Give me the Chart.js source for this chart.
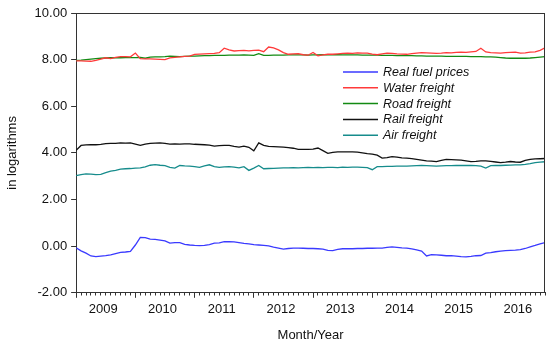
<!DOCTYPE html>
<html>
<head>
<meta charset="utf-8">
<script src="https://cdn.jsdelivr.net/npm/chart.js@4/dist/chart.umd.min.js"></script>
<style>
  html, body { margin: 0; padding: 0; background: #ffffff; }
  #wrap { width: 550px; height: 351px; }
</style>
</head>
<body>
<div id="wrap"><canvas id="c" width="550" height="351"></canvas></div>
<script>
// Monthly observations, January 2009 to December 2016 (index 0..95)
const yearLabels = ['2009', '2010', '2011', '2012', '2013', '2014', '2015', '2016'];
const yTickValues = [-2, 0, 2, 4, 6, 8, 10];
const seriesNames = ['Real fuel prices', 'Water freight', 'Road freight', 'Rail freight', 'Air freight'];

const realFuel = [
  -0.07, -0.20, -0.30, -0.42, -0.45, -0.43, -0.41, -0.37, -0.32, -0.27, -0.25, -0.22,
   0.05,  0.38,  0.37,  0.30,  0.29,  0.26,  0.23,  0.13,  0.15,  0.15,  0.08,  0.05,
   0.03,  0.02,  0.03,  0.07,  0.13,  0.14,  0.19,  0.19,  0.18,  0.15,  0.12,  0.10,
   0.07,  0.05,  0.03,  0.01, -0.04, -0.08, -0.13, -0.10, -0.08, -0.08, -0.09, -0.10,
  -0.10, -0.11, -0.13, -0.18, -0.19, -0.14, -0.11, -0.11, -0.11, -0.10, -0.10, -0.09,
  -0.09, -0.08, -0.08, -0.05, -0.03, -0.05, -0.07, -0.08, -0.12, -0.16, -0.21, -0.42,
  -0.36, -0.37, -0.39, -0.41, -0.41, -0.43, -0.45, -0.46, -0.44, -0.41, -0.40, -0.30,
  -0.28, -0.24, -0.21, -0.19, -0.18, -0.17, -0.15, -0.10, -0.03,  0.03,  0.10,  0.15
];
const waterFreight = [
  7.95, 7.95, 7.94, 7.93, 7.97, 8.02, 8.08, 8.04, 8.10, 8.13, 8.13, 8.12,
  8.28, 8.04, 8.03, 8.03, 8.02, 8.01, 8.00, 8.08, 8.10, 8.12, 8.14, 8.15,
  8.23, 8.24, 8.25, 8.26, 8.27, 8.30, 8.49, 8.42, 8.37, 8.39, 8.40, 8.38,
  8.40, 8.41, 8.34, 8.54, 8.50, 8.42, 8.30, 8.23, 8.25, 8.26, 8.21, 8.19,
  8.31, 8.16, 8.20, 8.23, 8.23, 8.25, 8.27, 8.28, 8.27, 8.29, 8.28, 8.28,
  8.24, 8.21, 8.25, 8.28, 8.27, 8.25, 8.24, 8.23, 8.26, 8.28, 8.30, 8.29,
  8.28, 8.27, 8.28, 8.30, 8.29, 8.31, 8.32, 8.31, 8.33, 8.35, 8.49, 8.33,
  8.30, 8.29, 8.28, 8.30, 8.31, 8.32, 8.28, 8.29, 8.32, 8.33, 8.40, 8.51
];
const roadFreight = [
  7.97, 7.98, 8.00, 8.02, 8.04, 8.06, 8.07, 8.08, 8.08, 8.08, 8.09, 8.09,
  8.09, 8.10, 8.06, 8.11, 8.12, 8.12, 8.13, 8.15, 8.14, 8.13, 8.14, 8.15,
  8.15, 8.16, 8.17, 8.17, 8.18, 8.18, 8.18, 8.19, 8.19, 8.19, 8.20, 8.19,
  8.18, 8.26, 8.18, 8.18, 8.19, 8.19, 8.19, 8.20, 8.20, 8.20, 8.20, 8.19,
  8.20, 8.20, 8.21, 8.21, 8.21, 8.21, 8.20, 8.20, 8.20, 8.20, 8.19, 8.19,
  8.19, 8.19, 8.18, 8.18, 8.18, 8.17, 8.17, 8.17, 8.17, 8.16, 8.16, 8.15,
  8.15, 8.15, 8.15, 8.14, 8.14, 8.14, 8.14, 8.14, 8.13, 8.13, 8.13, 8.12,
  8.12, 8.11, 8.09, 8.07, 8.06, 8.06, 8.06, 8.06, 8.07, 8.09, 8.11, 8.13
];
const railFreight = [
  4.11, 4.32, 4.34, 4.35, 4.35, 4.37, 4.40, 4.41, 4.41, 4.43, 4.42, 4.43,
  4.38, 4.32, 4.38, 4.41, 4.42, 4.43, 4.41, 4.38, 4.39, 4.38, 4.39, 4.39,
  4.37, 4.36, 4.35, 4.33, 4.29, 4.31, 4.32, 4.32, 4.28, 4.25, 4.29, 4.24,
  4.09, 4.43, 4.32, 4.28, 4.27, 4.26, 4.25, 4.23, 4.20, 4.15, 4.15, 4.15,
  4.16, 4.21, 4.10, 3.98, 4.02, 4.04, 4.04, 4.04, 4.04, 4.03, 4.00, 3.97,
  3.95, 3.90, 3.78, 3.80, 3.84, 3.82, 3.79, 3.78, 3.75, 3.72, 3.69, 3.66,
  3.65, 3.63, 3.68, 3.72, 3.71, 3.70, 3.69, 3.66, 3.63, 3.64, 3.66, 3.66,
  3.64, 3.61, 3.58, 3.60, 3.63, 3.61, 3.60, 3.68, 3.72, 3.74, 3.75, 3.76
];
const airFreight = [
  3.03, 3.07, 3.10, 3.09, 3.07, 3.08, 3.15, 3.22, 3.25, 3.30, 3.32, 3.33,
  3.35, 3.36, 3.40, 3.47, 3.50, 3.47, 3.45, 3.38, 3.35, 3.46, 3.44, 3.43,
  3.41, 3.38, 3.44, 3.49, 3.41, 3.38, 3.40, 3.41, 3.39, 3.36, 3.41, 3.25,
  3.35, 3.46, 3.32, 3.33, 3.34, 3.35, 3.36, 3.36, 3.37, 3.36, 3.37, 3.38,
  3.37, 3.38, 3.37, 3.38, 3.38, 3.37, 3.39, 3.38, 3.39, 3.39, 3.38, 3.37,
  3.28, 3.41, 3.41, 3.42, 3.42, 3.43, 3.43, 3.43, 3.44, 3.45, 3.46, 3.45,
  3.44, 3.43, 3.44, 3.45, 3.45, 3.46, 3.46, 3.46, 3.46, 3.45, 3.43, 3.35,
  3.45, 3.46, 3.46, 3.47, 3.48, 3.49, 3.49, 3.51, 3.54, 3.58, 3.60, 3.62
];

const seriesValues = [realFuel, waterFreight, roadFreight, railFreight, airFreight];
const seriesColors = ['#3a3aff', '#ff3a3a', '#138a13', '#111111', '#168c8c'];

const FONT = '"Liberation Sans", Arial, sans-serif';
const nMonths = realFuel.length;

const datasets = seriesNames.map((name, k) => ({
  label: name,
  data: seriesValues[k].map((v, i) => ({ x: i, y: v })),
  borderColor: seriesColors[k],
  backgroundColor: seriesColors[k],
  borderWidth: 1.3,
  pointRadius: 0,
  tension: 0,
  fill: false
}));

function isLabelTick(v) { return Math.abs(((v - 5.5) % 12)) < 1e-6; }

const framePlugin = {
  id: 'frame',
  afterDatasetsDraw(chart) {
    const a = chart.chartArea, ctx = chart.ctx;
    ctx.save();
    ctx.strokeStyle = '#333333';
    ctx.lineWidth = 1;
    ctx.beginPath();
    ctx.moveTo(a.left, Math.round(a.top) + 0.5);
    ctx.lineTo(a.right, Math.round(a.top) + 0.5);
    ctx.moveTo(Math.round(a.right) - 0.5, a.top);
    ctx.lineTo(Math.round(a.right) - 0.5, a.bottom);
    ctx.stroke();
    ctx.restore();
  }
};

const legendPlugin = {
  id: 'insideLegend',
  afterDraw(chart) {
    const ctx = chart.ctx;
    const x0 = 343, lineLen = 35, textX = 383, y0 = 72, dy = 15.8;
    ctx.save();
    ctx.font = 'italic 12.5px ' + FONT;
    ctx.textBaseline = 'middle';
    ctx.textAlign = 'left';
    chart.data.datasets.forEach((ds, k) => {
      const y = y0 + k * dy;
      ctx.strokeStyle = ds.borderColor;
      ctx.lineWidth = 1.5;
      ctx.beginPath();
      ctx.moveTo(x0, y);
      ctx.lineTo(x0 + lineLen, y);
      ctx.stroke();
      ctx.fillStyle = '#111111';
      ctx.fillText(ds.label, textX, y + 0.5);
    });
    ctx.restore();
  }
};

new Chart(document.getElementById('c'), {
  type: 'line',
  data: { datasets },
  plugins: [framePlugin, legendPlugin],
  options: {
    responsive: false,
    animation: false,
    devicePixelRatio: 1,
    layout: { padding: { left: 5, right: 5, top: 13, bottom: 8 } },
    plugins: { legend: { display: false }, tooltip: { enabled: false } },
    scales: {
      x: {
        type: 'linear',
        min: 0,
        max: nMonths - 1,
        afterBuildTicks(scale) {
          const t = [];
          for (let i = 0; i < nMonths; i++) t.push({ value: i });
          for (let k = 0; k < yearLabels.length; k++) t.push({ value: 5.5 + 12 * k });
          t.sort((a, b) => a.value - b.value);
          scale.ticks = t;
        },
        ticks: {
          autoSkip: false,
          maxRotation: 0,
          minRotation: 0,
          padding: 4,
          color: '#111111',
          font: { family: FONT, size: 13 },
          callback(v) {
            if (isLabelTick(v)) return yearLabels[Math.round((v - 5.5) / 12)];
            return '';
          }
        },
        grid: {
          drawOnChartArea: false,
          drawTicks: true,
          tickLength: 5,
          tickWidth: (c) => (c.tick && isLabelTick(c.tick.value)) ? 0 : 1,
          tickColor: '#333333',
          tickBorderDash: (c) => (c.tick && c.tick.value % 12 === 0) ? [] : [2.5, 10]
        },
        border: { display: true, color: '#333333', width: 1 },
        title: {
          display: true,
          text: 'Month/Year',
          color: '#111111',
          font: { family: FONT, size: 13 },
          padding: { top: 6, bottom: 0 }
        }
      },
      y: {
        type: 'linear',
        min: -2,
        max: 10,
        afterBuildTicks(scale) {
          scale.ticks = yTickValues.map(v => ({ value: v }));
        },
        ticks: {
          padding: 4,
          color: '#111111',
          font: { family: FONT, size: 13 },
          callback: (v) => Number(v).toFixed(2)
        },
        grid: {
          drawOnChartArea: false,
          drawTicks: true,
          tickLength: 5,
          tickColor: '#333333'
        },
        border: { display: true, color: '#333333', width: 1 },
        title: {
          display: true,
          text: 'in logarithms',
          color: '#111111',
          font: { family: FONT, size: 13 },
          padding: { top: 0, bottom: 10 }
        }
      }
    }
  }
});
</script>
</body>
</html>
